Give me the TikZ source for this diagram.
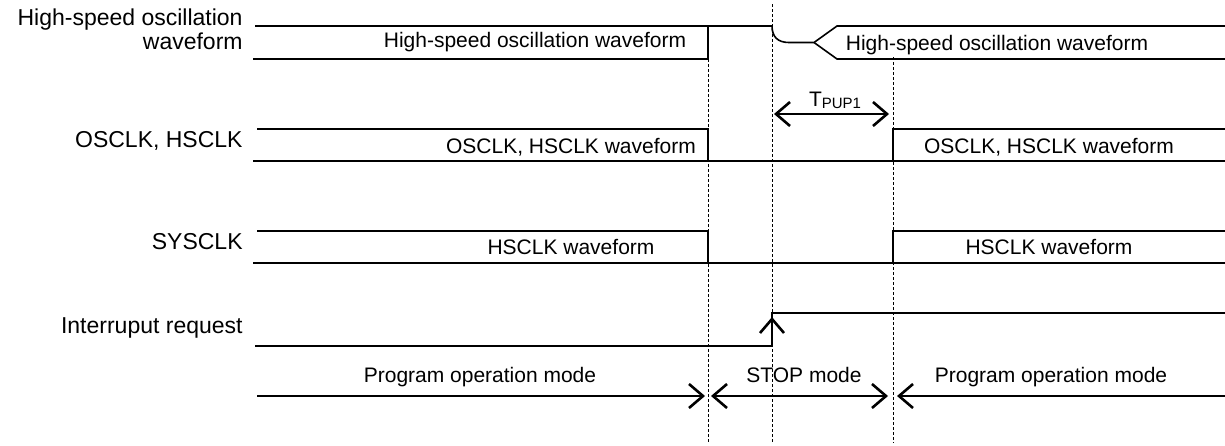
\documentclass[tikz,border=0pt]{standalone}
\usepackage{fontspec}
\setmainfont{Liberation Sans}
\usetikzlibrary{arrows.meta}
\tikzset{
  wave/.style={line width=0.8pt, line join=miter},
  guide/.style={line width=0.4pt, dash pattern=on 1.5pt off 1pt},
  span/.style={line width=1.3pt, {Straight Barb[length=7pt,width=12pt]}-{Straight Barb[length=7pt,width=12pt]}},
  spanr/.style={line width=1.3pt, -{Straight Barb[length=7pt,width=12pt]}},
  spanl/.style={line width=1.3pt, {Straight Barb[length=7pt,width=12pt]}-},
  siglbl/.style={font=\fontsize{11.5}{14}\selectfont, inner sep=0pt, anchor=base east},
  wavelbl/.style={font=\fontsize{10.5}{12.5}\selectfont, inner sep=0pt, anchor=base},
}

\begin{document}
\begin{tikzpicture}[x=0.5pt, y=-0.5pt]
        \useasboundingbox (0,0) rectangle (1225,445);
        % Guide lines
        \draw [guide] (708,59) -- (708,443);
        \draw [guide] (772,4) -- (772,443);
        \draw [guide] (893,57) -- (893,443);

        % Signal names
        \node[siglbl] (hsname1) at (243,25.5) {High-speed oscillation};
        \node[siglbl] (hsname2) at (243,49) {waveform};
        \node[siglbl] (oscname) at (243,147) {OSCLK, HSCLK};
        \node[siglbl] (sysname) at (243,249) {SYSCLK};
        \node[siglbl] (intname) at (243,333) {Interruput request};

        % High-speed oscillation
        \draw [wave] (255,26) -- (772,26) .. controls (772,37) and (778,42.5) .. (789,42.5) -- (814,42.5) -- (837,26) -- (1225,26);
        \draw [wave] (253,59) -- (708,59) -- (708,26);
        \draw [wave] (814,42.5) -- (837,59) -- (1225,59);
        \node[wavelbl] (hsleft) at (535,47) {High-speed oscillation waveform};
        \node[wavelbl] (hsright) at (997,50) {High-speed oscillation waveform};

        % T_PUP1
        \draw [span] (774,114) -- (889,114);
        \node[wavelbl] (tpup) at (835,106) {T\raisebox{-0.25ex}{\fontsize{7.5}{9}\selectfont PUP1}};

        % OSCLK, HSCLK
        \draw [wave] (257,129) -- (708,129) -- (708,161);
        \draw [wave] (253,161) -- (1225,161);
        \draw [wave] (893,161) -- (893,129) -- (1225,129);
        \node[wavelbl] (oscleft) at (571,153) {OSCLK, HSCLK waveform};
        \node[wavelbl] (oscright) at (1049,153) {OSCLK, HSCLK waveform};

        % SYSCLK
        \draw [wave] (257,231) -- (708,231) -- (708,263);
        \draw [wave] (253,263) -- (1225,263);
        \draw [wave] (893,263) -- (893,231) -- (1225,231);
        \node[wavelbl] (sysleft) at (571,254) {HSCLK waveform};
        \node[wavelbl] (sysright) at (1049,254) {HSCLK waveform};

        % Interrupt request
        \draw [wave] (255,346) -- (772,346) -- (772,313) -- (1225,313);
        \draw [line width=1.3pt, -{Straight Barb[length=7pt,width=12pt]}] (772,345) -- (772,317);

        % Modes
        \draw [spanr] (257,396) -- (705,396);
        \draw [span] (711,396) -- (888,396);
        \draw [spanl] (897,396) -- (1225,396);
        \node[wavelbl] (progleft) at (480,382) {Program operation mode};
        \node[wavelbl] (stopmode) at (804,382) {STOP mode};
        \node[wavelbl] (progright) at (1051,382) {Program operation mode};
      \end{tikzpicture}
\end{document}
